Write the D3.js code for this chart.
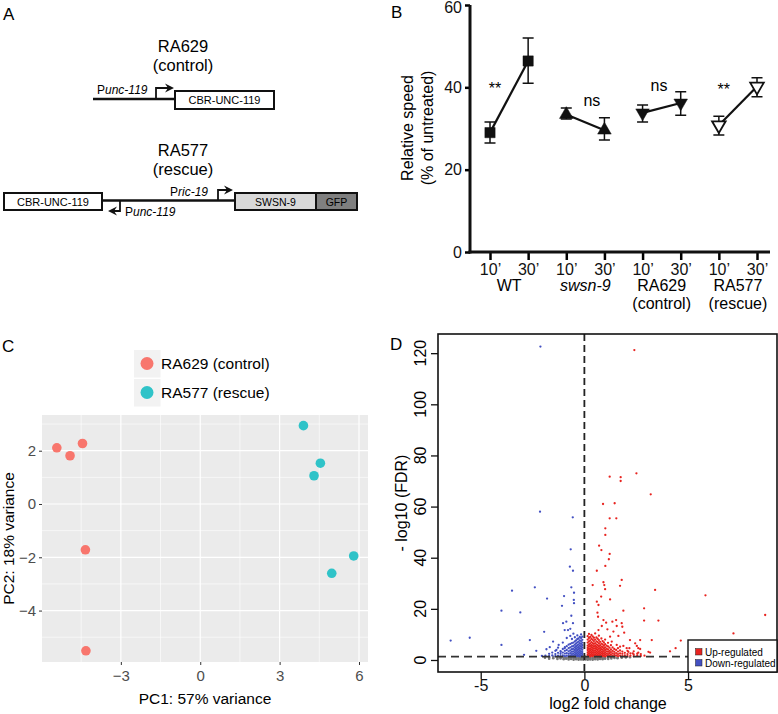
<!DOCTYPE html>
<html><head><meta charset="utf-8">
<script src="https://cdn.jsdelivr.net/npm/d3@7"></script>
<style>
body{margin:0;background:#fff}
svg{display:block;font-family:"Liberation Sans",Arial,Helvetica,sans-serif}
</style>
</head><body>
<svg id="fig" width="778" height="714"></svg>
<script>
// ================= DATA =================
// Panel B: relative speed (% of untreated)
const speedCategories = ["WT 10","WT 30","swsn-9 10","swsn-9 30","RA629 10","RA629 30","RA577 10","RA577 30"];
const speedTickLabels = ["10’","30’","10’","30’","10’","30’","10’","30’"];
const speedGroupLine1 = ["WT","swsn-9","RA629","RA577"];
const speedGroupLine2 = ["","","(control)","(rescue)"];
const speedMean  = [29.0, 46.4, 33.4, 29.6, 33.8, 36.2, 30.8, 40.2];
const speedErrHi = [31.6, 52.0, 35.0, 32.6, 35.7, 38.9, 33.0, 42.3];
const speedErrLo = [26.5, 41.0, 32.3, 27.2, 31.6, 33.2, 28.4, 37.7];
const speedMarker = ["square","triangle","down","downOpen"];
const sigLabels = ["**","ns","ns","**"];
const sigPos = [0.13, 2.67, 4.43, 6.13];
const sigY = [38.5, 35.5, 39.0, 38.2];
const speedYTicks = [0,20,40,60];

// Panel C: PCA
const pcaGroups = ["RA629 (control)","RA577 (rescue)"];
const pcaControlX = [-5.42,-4.92,-4.45,-4.34,-4.32];
const pcaControlY = [2.11,1.81,2.27,-1.72,-5.51];
const pcaRescueX = [3.90,4.54,4.30,5.80,4.97];
const pcaRescueY = [2.94,1.53,1.06,-1.95,-2.60];
const pcaXTicks = [-3,0,3,6];
const pcaYTicks = [-4,-2,0,2];
const pcaXMinor = [-4.5,-1.5,1.5,4.5];
const pcaYMinor = [-5,-3,-1,1,3];

// Panel D: volcano, [log2FC, -log10 FDR]
const volcUpPoints = [
 [2.41,121.2],[2.51,73.0],[1.22,71.7],[1.75,71.5],[1.75,70.0],[3.20,64.8],[0.90,61.0],[1.46,61.3],
 [1.22,55.4],[1.54,55.4],[1.01,51.5],[1.01,48.9],[0.71,44.7],[0.82,43.0],[1.22,41.5],[1.18,39.4],
 [1.01,36.8],[0.60,34.9],[1.80,31.3],[0.92,30.4],[0.40,29.3],[0.96,29.3],[1.00,27.7],[1.72,29.0],
 [3.41,27.4],[0.81,24.8],[1.24,23.7],[0.60,22.8],[0.68,21.5],[1.88,19.3],[2.88,20.2],[0.63,18.5],
 [0.66,16.9],[2.88,15.4],[3.57,15.4],[1.53,15.6],[0.92,15.6],[1.05,14.6],[1.35,15.0],[1.56,13.3],
 [1.83,13.0],[1.80,14.4],[1.92,10.7],[1.40,11.1],[1.11,12.0],[0.84,13.3],[0.68,11.7],[1.24,9.1],
 [1.64,9.4],[1.32,7.2],[2.20,7.8],[2.69,7.8],[3.25,7.8],[2.69,4.3],[2.60,2.9],[3.17,2.9],[3.09,3.2],
 [4.13,3.4],[4.40,4.6],[4.65,7.6],[2.04,4.6],[2.12,3.2],[2.33,2.6],[1.72,5.2],[1.56,5.9],[2.17,4.6],
 [1.88,5.5],[2.45,6.5],[2.53,5.5],[2.60,4.6],[5.84,25.3],[8.72,17.6],[7.19,10.4]
];
const volcUpDense = [
 [0.16,[1.5,2.2,3.0,3.9,4.7,5.6,6.8,8.0,9.3]],
 [0.22,[1.8,2.6,3.4,4.3,5.2,6.1,7.3,8.6,10.2]],
 [0.28,[1.4,2.0,2.9,3.7,4.5,5.5,6.5,7.7,9.0]],
 [0.34,[1.7,2.4,3.2,4.1,5.0,5.9,7.0,8.3,9.8]],
 [0.40,[1.5,2.2,3.0,3.8,4.7,5.6,6.6,7.9,9.2]],
 [0.46,[1.9,2.7,3.5,4.4,5.3,6.3,7.4,8.7]],
 [0.52,[1.4,2.1,2.9,3.7,4.6,5.5,6.6,8.0,10.4]],
 [0.58,[1.7,2.5,3.3,4.2,5.1,6.1,7.3,8.8]],
 [0.64,[1.5,2.2,3.0,3.9,4.8,5.8,7.0,8.3]],
 [0.70,[1.8,2.6,3.4,4.4,5.4,6.5,7.8,9.5]],
 [0.76,[1.4,2.1,2.9,3.8,4.7,5.8,7.1]],
 [0.82,[1.7,2.5,3.3,4.2,5.2,6.4,8.4]],
 [0.88,[1.5,2.3,3.1,4.0,5.0,6.1,7.4]],
 [0.94,[1.8,2.6,3.5,4.5,5.6,6.9]],
 [1.00,[1.4,2.2,3.0,3.9,4.9,6.2,8.0]],
 [1.07,[1.7,2.5,3.4,4.4,5.6]],
 [1.14,[1.5,2.3,3.2,4.1,5.3,6.7]],
 [1.21,[1.8,2.7,3.6,4.8]],
 [1.28,[1.4,2.2,3.1,4.1,5.8]],
 [1.36,[1.7,2.6,3.6,4.9]],
 [1.44,[1.5,2.3,3.2,4.3]],
 [1.53,[1.8,2.7,3.9]],
 [1.62,[1.5,2.3,3.3,4.6]],
 [1.72,[1.7,2.6,3.7]],
 [1.83,[1.5,2.4,3.3]],
 [1.95,[1.8,2.8]],
 [2.08,[1.5,2.3,3.6]],
 [2.22,[1.7,2.6]],
 [2.38,[1.5,2.2,3.4]],
 [2.55,[1.8,2.5]],
 [2.72,[1.6,2.3]],
 [2.90,[1.7]]
];
const volcDownPoints = [
 [-2.12,122.6],[-2.14,58.0],[-0.56,55.8],[-0.66,43.3],[-0.70,36.5],[-0.55,34.9],[-0.63,28.4],
 [-0.50,26.3],[-0.98,25.0],[-0.51,23.5],[-1.80,24.0],[-2.39,28.4],[-3.49,27.1],[-1.08,21.2],
 [-0.50,22.2],[-4.00,19.3],[-3.09,18.6],[-0.63,17.3],[-0.87,15.0],[-1.03,14.4],[-0.55,14.4],
 [-0.79,11.7],[-0.95,11.7],[-5.53,8.7],[-6.45,7.6],[-4.00,5.9],[-1.94,11.0],[-2.63,7.8],
 [-2.91,2.0],[-2.32,3.6],[-1.51,7.2],[-1.67,5.0],[-1.83,4.2],[-1.35,3.9],[-1.24,5.9],
 [-1.14,3.2],[-0.95,4.6]
];
const volcDownDense = [
 [-0.10,[1.5,2.3,3.1,4.0,4.9,5.8,6.8,7.9,9.1]],
 [-0.16,[1.8,2.6,3.4,4.4,5.3,6.3,7.4,8.6,10.0]],
 [-0.22,[1.4,2.1,2.9,3.7,4.6,5.6,6.6,7.7,9.0]],
 [-0.28,[1.7,2.5,3.3,4.2,5.1,6.1,7.2,8.4]],
 [-0.34,[1.5,2.2,3.0,3.9,4.8,5.8,6.9,8.2,9.6]],
 [-0.40,[1.8,2.6,3.5,4.4,5.4,6.5,7.7]],
 [-0.46,[1.4,2.1,3.0,3.9,4.9,6.0,7.3,8.9]],
 [-0.53,[1.7,2.5,3.4,4.4,5.5,6.8,10.3]],
 [-0.60,[1.5,2.3,3.2,4.2,5.3,6.6,8.2]],
 [-0.68,[1.8,2.7,3.7,4.9,6.3,9.4,12.2]],
 [-0.76,[1.5,2.4,3.4,4.6,6.0]],
 [-0.85,[1.7,2.7,3.9,5.4,8.6]],
 [-0.94,[1.5,2.5,3.6,5.0]],
 [-1.04,[1.8,2.9,4.3,6.8]],
 [-1.15,[1.5,2.4,3.5]],
 [-1.27,[1.7,2.8,4.8]],
 [-1.40,[1.5,2.3,3.6]],
 [-1.55,[1.8,2.9]],
 [-1.70,[1.5,2.4]],
 [-1.88,[1.7]],
 [-2.05,[1.6]]
];
const volcNsDense = [
 [-1.9,[0.9]],[-1.7,[0.5,1.1]],[-1.5,[0.7,1.2]],[-1.3,[0.4,0.9]],[-1.15,[0.6,1.1]],[-1.0,[0.3,0.8,1.2]],
 [-0.88,[0.5,1.0]],[-0.76,[0.2,0.7,1.1]],[-0.64,[0.4,0.9,1.2]],[-0.52,[0.1,0.6,1.0]],[-0.40,[0.3,0.7,1.1]],
 [-0.28,[0.1,0.5,0.9,1.2]],[-0.16,[0.2,0.6,1.0]],[-0.05,[0.1,0.4,0.8,1.1]],[0.05,[0.2,0.5,0.9,1.2]],
 [0.16,[0.1,0.4,0.7,1.0]],[0.28,[0.2,0.6,1.0]],[0.40,[0.1,0.5,0.9,1.2]],[0.52,[0.3,0.7,1.1]],
 [0.64,[0.2,0.6,1.0]],[0.76,[0.4,0.8,1.2]],[0.88,[0.3,0.7,1.1]],[1.0,[0.5,0.9]],[1.15,[0.4,1.0]],
 [1.3,[0.6,1.1]],[1.45,[0.8,1.2]],[1.6,[0.7,1.1]],[1.8,[0.9]],[2.0,[1.0]],[2.2,[1.1]]
];
const volcXTicks = [-5,0,5];
const volcYTicks = [0,20,40,60,80,100,120];
const volcFdrCut = 1.3;
const volcLegend = ["Up-regulated","Down-regulated"];

// ================= DRAW =================
const svg = d3.select("#fig");
const label = (x,y,t,size)=>svg.append("text").attr("x",x).attr("y",y).attr("font-size",size).text(t);

// ---------- Panel A ----------
label(3,20,"A",17);
const gA = svg.append("g");
function ctext(x,y,t,size,anchor){
  return gA.append("text").attr("x",x).attr("y",y).attr("font-size",size).attr("text-anchor",anchor||"middle").text(t);
}
function promoter(x,y,parts){
  const tx = gA.append("text").attr("x",x).attr("y",y).attr("font-size",12);
  tx.append("tspan").text(parts[0]);
  tx.append("tspan").attr("font-style","italic").text(parts[1]);
  return tx;
}
function arrowHead(tipX,tipY,dir){
  const s = dir; // 1 right, -1 left
  gA.append("path").attr("d",`M${tipX},${tipY} L${tipX-9*s},${tipY-4.5} L${tipX-6*s},${tipY} L${tipX-9*s},${tipY+4.5} Z`).attr("fill","#111");
}
ctext(183,52,"RA629",16.5);
ctext(183,71,"(control)",16.5);
gA.append("line").attr("x1",93).attr("x2",175).attr("y1",99).attr("y2",99).attr("stroke","#111").attr("stroke-width",2.6);
gA.append("path").attr("d","M156,99 V88 H168").attr("fill","none").attr("stroke","#111").attr("stroke-width",1.8);
arrowHead(174,88,1);
promoter(97,94,["P","unc-119"]);
gA.append("rect").attr("x",175).attr("y",91).attr("width",99).attr("height",18).attr("fill","#fff").attr("stroke","#111").attr("stroke-width",2);
ctext(224.5,104,"CBR-UNC-119",11);

ctext(183,156,"RA577",16.5);
ctext(183,175,"(rescue)",16.5);
gA.append("line").attr("x1",102).attr("x2",235).attr("y1",200.5).attr("y2",200.5).attr("stroke","#111").attr("stroke-width",2.6);
gA.append("rect").attr("x",4).attr("y",193).attr("width",98).attr("height",17).attr("fill","#fff").attr("stroke","#111").attr("stroke-width",2);
ctext(53,205.5,"CBR-UNC-119",11);
gA.append("path").attr("d","M120,200 V211 H114").attr("fill","none").attr("stroke","#111").attr("stroke-width",1.8);
arrowHead(108,211,-1);
promoter(125,216,["P","unc-119"]);
gA.append("path").attr("d","M218,200 V190 H227").attr("fill","none").attr("stroke","#111").attr("stroke-width",1.8);
arrowHead(233,190,1);
promoter(170,196,["P","ric-19"]);
gA.append("rect").attr("x",235).attr("y",193).attr("width",81).attr("height",17).attr("fill","#d9d9d9").attr("stroke","#111").attr("stroke-width",2);
gA.append("rect").attr("x",316).attr("y",193).attr("width",41).attr("height",17).attr("fill","#7f7f7f").attr("stroke","#111").attr("stroke-width",2);
ctext(275.5,205.5,"SWSN-9",10.5);
ctext(336.5,205.5,"GFP",10.5);

// ---------- Panel B ----------
label(391,18,"B",17);
const gB = svg.append("g");
const bLeft = 470, bRight = 770, bTop = 5, bBottom = 252;
const xB = d3.scalePoint().domain(speedCategories).range([490,757]);
const yB = d3.scaleLinear().domain([0,60]).range([bBottom,bTop]);
const yAxB = gB.append("g").attr("transform",`translate(${bLeft},0)`)
  .call(d3.axisLeft(yB).tickValues(speedYTicks).tickSize(5).tickPadding(3));
yAxB.select(".domain").remove();
yAxB.selectAll(".tick line").attr("stroke-width",2.5);
yAxB.selectAll(".tick text").attr("font-size",16).attr("font-family","inherit").attr("fill","#111")
  .attr("dy",d=>d===60?"0.45em":"0.32em");
const xAxB = gB.append("g").attr("transform",`translate(0,${bBottom})`)
  .call(d3.axisBottom(xB).tickSize(8).tickPadding(4).tickFormat((d,i)=>speedTickLabels[i]));
xAxB.select(".domain").remove();
xAxB.selectAll(".tick line").attr("stroke-width",2.5);
xAxB.selectAll(".tick text").attr("font-size",16).attr("font-family","inherit").attr("fill","#111");
gB.append("line").attr("x1",bLeft).attr("x2",bLeft).attr("y1",bTop).attr("y2",bBottom+1.5).attr("stroke","#111").attr("stroke-width",3);
gB.append("line").attr("x1",bLeft-1.5).attr("x2",bRight).attr("y1",bBottom).attr("y2",bBottom).attr("stroke","#111").attr("stroke-width",3);
speedGroupLine1.forEach((g,i)=>{
  const cx = (xB(speedCategories[2*i])+xB(speedCategories[2*i+1]))/2;
  gB.append("text").attr("x",cx).attr("y",291).attr("text-anchor","middle").attr("font-size",16)
    .attr("font-style", g==="swsn-9"?"italic":"normal").text(g);
  if(speedGroupLine2[i]) gB.append("text").attr("x",cx).attr("y",309).attr("text-anchor","middle").attr("font-size",16).text(speedGroupLine2[i]);
});
gB.append("text").attr("transform",`translate(413,128) rotate(-90)`).attr("text-anchor","middle").attr("font-size",16).text("Relative speed");
gB.append("text").attr("transform",`translate(433,128) rotate(-90)`).attr("text-anchor","middle").attr("font-size",16).text("(% of untreated)");
const idx = d3.range(speedMean.length);
speedGroupLine1.forEach((g,i)=>{
  const a = 2*i, b = 2*i+1;
  gB.append("line").attr("x1",xB(speedCategories[a])).attr("y1",yB(speedMean[a]))
    .attr("x2",xB(speedCategories[b])).attr("y2",yB(speedMean[b])).attr("stroke","#111").attr("stroke-width",2.2);
});
gB.selectAll(".eb").data(idx).join("path").attr("class","eb")
  .attr("d",i=>{const x=xB(speedCategories[i]),h=yB(speedErrHi[i]),l=yB(speedErrLo[i]);
    return `M${x},${h}V${l}M${x-5.5},${h}H${x+5.5}M${x-5.5},${l}H${x+5.5}`;})
  .attr("fill","none").attr("stroke","#111").attr("stroke-width",1.5);
const symFor = m => m==="square" ? d3.symbol(d3.symbolSquare,105)() : d3.symbol(d3.symbolTriangle,80)();
gB.selectAll(".mk").data(idx).join("path").attr("class","mk")
  .attr("d",i=>symFor(speedMarker[Math.floor(i/2)]))
  .attr("transform",i=>{const m=speedMarker[Math.floor(i/2)];
    const x=xB(speedCategories[i]), y=yB(speedMean[i]);
    return m.startsWith("down") ? `translate(${x},${y}) rotate(180)` : `translate(${x},${y})`;})
  .attr("fill",i=>speedMarker[Math.floor(i/2)]==="downOpen"?"#fff":"#111")
  .attr("stroke","#111").attr("stroke-width",i=>speedMarker[Math.floor(i/2)]==="downOpen"?1.8:0.5);
const stepB = xB.step();
sigLabels.forEach((s,i)=>{
  gB.append("text").attr("x",xB(speedCategories[0])+sigPos[i]*stepB).attr("y",yB(sigY[i]))
    .attr("text-anchor","middle").attr("font-size",16).text(s);
});

// ---------- Panel C ----------
label(2,352,"C",17);
const gC = svg.append("g");
const cL=42,cR=368,cT=415,cB=662;
const xC = d3.scaleLinear().domain([-5.98,6.34]).range([cL,cR]);
const yC = d3.scaleLinear().domain([-5.93,3.34]).range([cB,cT]);
gC.append("rect").attr("x",cL).attr("y",cT).attr("width",cR-cL).attr("height",cB-cT).attr("fill","#EBEBEB");
gC.selectAll(".vmin").data(pcaXMinor).join("line").attr("x1",d=>xC(d)).attr("x2",d=>xC(d)).attr("y1",cT).attr("y2",cB).attr("stroke","#fff").attr("stroke-width",0.6);
gC.selectAll(".hmin").data(pcaYMinor).join("line").attr("y1",d=>yC(d)).attr("y2",d=>yC(d)).attr("x1",cL).attr("x2",cR).attr("stroke","#fff").attr("stroke-width",0.6);
gC.selectAll(".vmaj").data(pcaXTicks).join("line").attr("x1",d=>xC(d)).attr("x2",d=>xC(d)).attr("y1",cT).attr("y2",cB).attr("stroke","#fff").attr("stroke-width",1.2);
gC.selectAll(".hmaj").data(pcaYTicks).join("line").attr("y1",d=>yC(d)).attr("y2",d=>yC(d)).attr("x1",cL).attr("x2",cR).attr("stroke","#fff").attr("stroke-width",1.2);
const fmtMinus = d => d<0 ? "\u2212"+Math.abs(d) : String(d);
const xAxC = gC.append("g").attr("transform",`translate(0,${cB})`).call(d3.axisBottom(xC).tickValues(pcaXTicks).tickSize(3).tickPadding(5).tickFormat(fmtMinus));
const yAxC = gC.append("g").attr("transform",`translate(${cL},0)`).call(d3.axisLeft(yC).tickValues(pcaYTicks).tickSize(3).tickPadding(3).tickFormat(fmtMinus));
[xAxC,yAxC].forEach(a=>{a.select(".domain").remove();a.selectAll(".tick line").attr("stroke","#333");
  a.selectAll(".tick text").attr("font-size",15).attr("font-family","inherit").attr("fill","#4D4D4D");});
const pcaColors = ["#F8766D","#2FC3C8"];
const ctrl = pcaControlX.map((x,i)=>[x,pcaControlY[i]]);
const resc = pcaRescueX.map((x,i)=>[x,pcaRescueY[i]]);
gC.selectAll(".pc0").data(ctrl).join("circle").attr("cx",d=>xC(d[0])).attr("cy",d=>yC(d[1])).attr("r",4.8).attr("fill",pcaColors[0]);
gC.selectAll(".pc1").data(resc).join("circle").attr("cx",d=>xC(d[0])).attr("cy",d=>yC(d[1])).attr("r",4.8).attr("fill",pcaColors[1]);
gC.append("text").attr("x",(cL+cR)/2).attr("y",704).attr("text-anchor","middle").attr("font-size",15.5).text("PC1: 57% variance");
gC.append("text").attr("transform",`translate(14,${(cT+cB)/2}) rotate(-90)`).attr("text-anchor","middle").attr("font-size",15.5).text("PC2: 18% variance");
pcaGroups.forEach((g,i)=>{
  const ky = 350 + i*29;
  gC.append("rect").attr("x",134).attr("y",ky).attr("width",26.5).attr("height",27.5).attr("fill","#F2F2F2");
  gC.append("circle").attr("cx",147).attr("cy",ky+13.5).attr("r",6.5).attr("fill",pcaColors[i]);
  gC.append("text").attr("x",161).attr("y",ky+19).attr("font-size",15.5).text(g);
});

// ---------- Panel D ----------
label(390,350,"D",17);
const gD = svg.append("g");
const dL=438,dR=777,dT=334,dB=672;
const xD = d3.scaleLinear().domain([-7.06,9.29]).range([dL,dR]);
const yD = d3.scaleLinear().domain([-4.7,127.5]).range([dB,dT]);
const flat = rows => rows.flatMap(r=>r[1].map(y=>[r[0],y]));
const upAll = volcUpPoints.concat(flat(volcUpDense));
const downAll = volcDownPoints.concat(flat(volcDownDense));
const nsAll = flat(volcNsDense);
const colUp = "#E8231F", colDown = "#4350C2", colNs = "#777";
gD.selectAll(".ns").data(nsAll).join("circle").attr("cx",d=>xD(d[0])).attr("cy",d=>yD(d[1])).attr("r",1.3).attr("fill",colNs);
gD.selectAll(".dn").data(downAll).join("circle").attr("cx",d=>xD(d[0])).attr("cy",d=>yD(d[1])).attr("r",1.15).attr("fill",colDown);
gD.selectAll(".up").data(upAll).join("circle").attr("cx",d=>xD(d[0])).attr("cy",d=>yD(d[1])).attr("r",1.15).attr("fill",colUp);
gD.append("line").attr("x1",xD(0)).attr("x2",xD(0)).attr("y1",dT).attr("y2",dB).attr("stroke","#222").attr("stroke-width",1.8).attr("stroke-dasharray","7,4");
gD.append("line").attr("x1",dL).attr("x2",dR).attr("y1",yD(volcFdrCut)).attr("y2",yD(volcFdrCut)).attr("stroke","#333").attr("stroke-width",1.8).attr("stroke-dasharray","8,5");
gD.append("rect").attr("x",dL).attr("y",dT).attr("width",dR-dL).attr("height",dB-dT).attr("fill","none").attr("stroke","#111").attr("stroke-width",1.6);
const xAxD = gD.append("g").attr("transform",`translate(0,${dB})`).call(d3.axisBottom(xD).tickValues(volcXTicks).tickSize(7).tickFormat(d=>String(d)).tickPadding(1));
const yAxD = gD.append("g").attr("transform",`translate(${dL},0)`).call(d3.axisLeft(yD).tickValues(volcYTicks).tickSize(7).tickFormat(""));
[xAxD,yAxD].forEach(a=>{a.select(".domain").remove();a.selectAll(".tick line").attr("stroke","#111").attr("stroke-width",1.3);});
xAxD.selectAll(".tick text").attr("font-size",16).attr("font-family","inherit").attr("fill","#111");
gD.selectAll(".ylab").data(volcYTicks).join("text").attr("class","ylab")
  .attr("transform",d=>`translate(426,${yD(d)}) rotate(-90)`).attr("text-anchor","middle").attr("font-size",16).text(d=>d);
gD.append("text").attr("x",608).attr("y",709).attr("text-anchor","middle").attr("font-size",16).text("log2 fold change");
gD.append("text").attr("transform",`translate(407,503) rotate(-90)`).attr("text-anchor","middle").attr("font-size",16).text("- log10 (FDR)");
gD.append("rect").attr("x",688).attr("y",640).attr("width",dR-688).attr("height",dB-640).attr("fill","#fff").attr("stroke","#111").attr("stroke-width",1.4);
[colUp,colDown].forEach((c,i)=>{
  gD.append("rect").attr("x",695.5).attr("y",648.5+i*11).attr("width",6.5).attr("height",6.5).attr("fill",c).attr("stroke","#222").attr("stroke-width",0.5);
  gD.append("text").attr("x",705).attr("y",655.5+i*11).attr("font-size",10).text(volcLegend[i]);
});
</script>
</body></html>
